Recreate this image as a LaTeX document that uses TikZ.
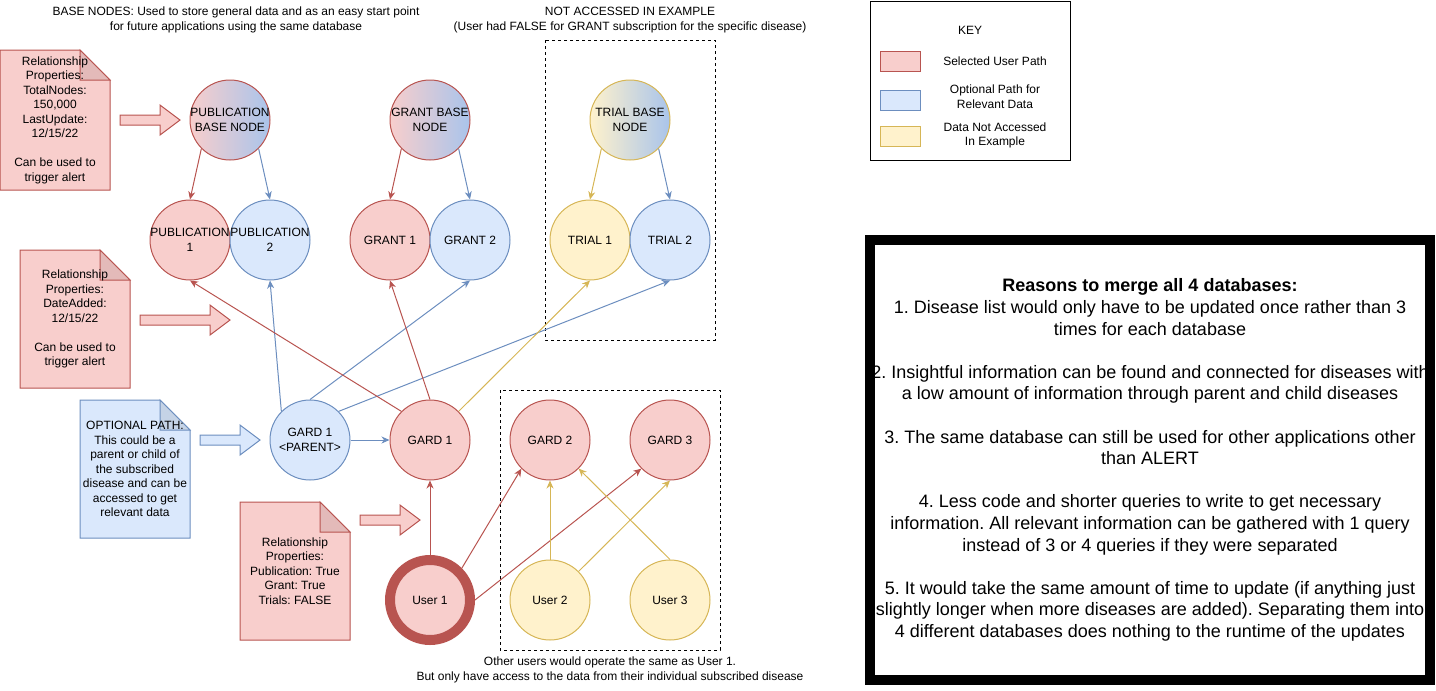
\documentclass[tikz,border=0pt]{standalone}
\usepackage{fontspec}
\setmainfont{Liberation Sans}
\usetikzlibrary{arrows.meta}

\definecolor{redfill}{HTML}{F8CECC}
\definecolor{redline}{HTML}{B85450}
\definecolor{redfold}{HTML}{E3BAB9}
\definecolor{bluefill}{HTML}{DAE8FC}
\definecolor{blueline}{HTML}{6C8EBF}
\definecolor{bluefold}{HTML}{C5D3E6}
\definecolor{yellowfill}{HTML}{FFF2CC}
\definecolor{yellowline}{HTML}{D6B656}
\definecolor{gradblue}{HTML}{A9C4EB}

% note with folded corner: name, x1, y1, x2, y2, colour, text
\newcommand{\docnote}[7]{%
  \filldraw[draw=#6line, fill=#6fill] (#2,#3) -- (#4-30,#3) -- (#4,#3+30) -- (#4,#5) -- (#2,#5) -- cycle;
  \filldraw[draw=#6line, fill=#6fold] (#4-30,#3) -- (#4-30,#3+30) -- (#4,#3+30) -- cycle;
  \node (#1) at ({(#2+#4)/2},{(#3+#5)/2}) {#7};}
% fat arrow: colour, x start, x end, y
\newcommand{\fatarrow}[4]{%
  \filldraw[draw=#1line, fill=#1fill] (#2,#4-5) -- (#3-20,#4-5) -- (#3-20,#4-15) -- (#3,#4)
    -- (#3-20,#4+15) -- (#3-20,#4+5) -- (#2,#4+5) -- cycle;}

\begin{document}
\frenchspacing
\begin{tikzpicture}[x=1pt, y=-1pt, line width=1pt,
  every node/.style={font=\fontsize{12}{14.5}\selectfont, align=center},
  disc/.style={circle, minimum size=80pt, inner sep=0pt, label={[align=center]center:#1}},
  redc/.style={disc={#1}, draw=redline, fill=redfill},
  bluec/.style={disc={#1}, draw=blueline, fill=bluefill},
  yellowc/.style={disc={#1}, draw=yellowline, fill=yellowfill},
  redgrad/.style={disc={#1}, draw=redline, left color=redfill, right color=gradblue},
  yellowgrad/.style={disc={#1}, draw=yellowline, left color=yellowfill, right color=gradblue},
  link/.style={-{Stealth[length=8pt,width=7pt,inset=2.5pt]}},
  redlink/.style={link, draw=redline},
  bluelink/.style={link, draw=blueline},
  yellowlink/.style={link, draw=yellowline},
  dashbox/.style={draw, dash pattern=on 3pt off 3pt},
  swatch/.style={minimum width=40pt, minimum height=20pt}]
\useasboundingbox (0,0) rectangle (1436,691);

% headings
\node (basetext) at (236,20) {BASE NODES: Used to store general data and as an easy start point\\for future applications using the same database};
\node (trialtext) at (630,20) {NOT ACCESSED IN EXAMPLE\\(User had FALSE for GRANT subscription for the specific disease)};
\node (usertext) at (610,670) {Other users would operate the same as User 1.\\But only have access to the data from their individual subscribed disease};

% dashed groups
\draw[dashbox] (545,40) rectangle (715,340);
\draw[dashbox] (500,390) rectangle (720,650);

% notes
\docnote{notepub}{0}{50}{110}{190}{red}{Relationship\\Properties:\\TotalNodes:\\150,000\\LastUpdate:\\12/15/22\\[14.5pt]Can be used to\\trigger alert}
\docnote{notegard}{20}{250}{130}{388}{red}{Relationship\\Properties:\\DateAdded:\\12/15/22\\[14.5pt]Can be used to\\trigger alert}
\docnote{noteparent}{80}{400}{190}{538}{blue}{OPTIONAL PATH:\\This could be a\\parent or child of\\the subscribed\\disease and can be\\accessed to get\\relevant data}
\docnote{noteuser}{240}{502}{350}{640}{red}{Relationship\\Properties:\\Publication: True\\Grant: True\\Trials: FALSE}

\fatarrow{red}{120}{180}{120}
\fatarrow{red}{140}{230}{320}
\fatarrow{blue}{200}{260}{440}
\fatarrow{red}{360}{420}{520}

% base nodes
\node[redgrad={PUBLICATION\\BASE NODE}] (pubbase) at (230,120) {};
\node[redgrad={GRANT BASE\\NODE}] (grantbase) at (430,120) {};
\node[yellowgrad={TRIAL BASE\\NODE}] (trialbase) at (630,120) {};

% data nodes
\node[redc={PUBLICATION\\1}] (pub1) at (190,240) {};
\node[bluec={PUBLICATION\\2}] (pub2) at (270,240) {};
\node[redc=GRANT 1] (grant1) at (390,240) {};
\node[bluec=GRANT 2] (grant2) at (470,240) {};
\node[yellowc=TRIAL 1] (trial1) at (590,240) {};
\node[bluec=TRIAL 2] (trial2) at (670,240) {};

% diseases and users
\node[bluec={GARD 1\\<PARENT>}] (gardparent) at (310,440) {};
\node[redc=GARD 1] (gard1) at (430,440) {};
\node[redc=GARD 2] (gard2) at (550,440) {};
\node[redc=GARD 3] (gard3) at (670,440) {};
\node[redc=User 1, line width=10pt] (user1) at (430,600) {};
\node[yellowc=User 2] (user2) at (550,600) {};
\node[yellowc=User 3] (user3) at (670,600) {};

% links
\draw[redlink] (pubbase.225) -- (pub1.north);
\draw[bluelink] (pubbase.315) -- (pub2.north);
\draw[redlink] (grantbase.225) -- (grant1.north);
\draw[bluelink] (grantbase.315) -- (grant2.north);
\draw[yellowlink] (trialbase.225) -- (trial1.north);
\draw[bluelink] (trialbase.315) -- (trial2.north);
\draw[bluelink] (gardparent.135) -- (pub2.south);
\draw[bluelink] (gardparent.north) -- (grant2.south);
\draw[bluelink] (gardparent.45) -- (trial2.south);
\draw[bluelink] (gardparent.east) -- (gard1.west);
\draw[redlink] (gard1.135) -- (pub1.south);
\draw[redlink] (gard1.north) -- (grant1.south);
\draw[yellowlink] (gard1.45) -- (trial1.south);
\draw[redlink] (user1.north) -- (gard1.south);
\draw[redlink] (user1.45) -- (gard2.225);
\draw[redlink] (user1.east) -- (gard3.225);
\draw[yellowlink] (user2.north) -- (gard2.south);
\draw[yellowlink] (user2.45) -- (gard3.south);
\draw[yellowlink] (user3.north) -- (gard2.315);

% key
\node[draw, minimum width=200pt, minimum height=159pt] (keybox) at (970,80.5) {};
\node (keytitle) at (970,30) {KEY};
\node[swatch, draw=redline, fill=redfill] (keyred) at (900,61) {};
\node[swatch, draw=blueline, fill=bluefill] (keyblue) at (900,100) {};
\node[swatch, draw=yellowline, fill=yellowfill] (keyyellow) at (900,136) {};
\node (keyredtext) at (995,61) {Selected User Path};
\node (keybluetext) at (995,96.5) {Optional Path for\\Relevant Data};
\node (keyyellowtext) at (995,135.5) {Data Not Accessed\\In Example};

% reasons
\node[font=\fontsize{18}{21.6}\selectfont] (reasons) at (1150,460) {\textbf{Reasons to merge all 4 databases:}\\
1. Disease list would only have to be updated once rather than 3\\
times for each database\\[21.6pt]
2. Insightful information can be found and connected for diseases with\\
a low amount of information through parent and child diseases\\[21.6pt]
3. The same database can still be used for other applications other\\
than ALERT\\[21.6pt]
4. Less code and shorter queries to write to get necessary\\
information. All relevant information can be gathered with 1 query\\
instead of 3 or 4 queries if they were separated\\[21.6pt]
5. It would take the same amount of time to update (if anything just\\
slightly longer when more diseases are added). Separating them into\\
4 different databases does nothing to the runtime of the updates};
\node[draw, line width=10pt, minimum width=560pt, minimum height=440pt] (reasonbox) at (1150,460) {};
\end{tikzpicture}
\end{document}
